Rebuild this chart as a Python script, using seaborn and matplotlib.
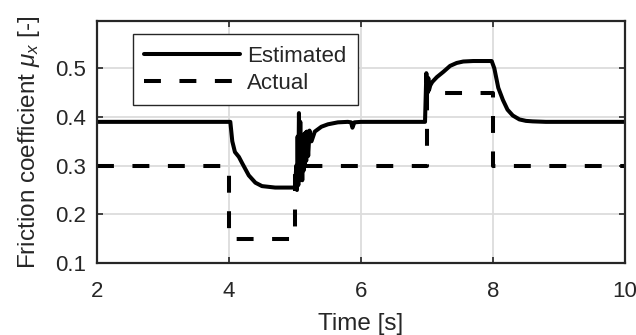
import matplotlib
matplotlib.use("Agg")
import matplotlib.pyplot as plt
import seaborn as sns
import pandas as pd

# ---- data ----
est_t = [2.0, 4.02, 4.05, 4.09, 4.15, 4.2, 4.3, 4.4, 4.5, 4.7, 5.0, 5.02, 5.03, 5.04, 5.05,
         5.06, 5.07, 5.08, 5.09, 5.1, 5.11, 5.12, 5.13, 5.14, 5.15, 5.16, 5.17, 5.18, 5.2,
         5.22, 5.25, 5.3, 5.4, 5.5, 5.65, 5.8, 5.85, 5.87,
         5.9, 6.0, 6.97, 6.99, 7.01, 7.02, 7.03, 7.05, 7.08, 7.15, 7.25, 7.35, 7.45, 7.55, 7.7,
         7.98, 8.02, 8.08, 8.15, 8.22, 8.3, 8.4, 8.5, 8.6, 8.8, 10.0]
est_v = [0.39, 0.39, 0.35, 0.328, 0.318, 0.305, 0.28, 0.265, 0.258, 0.255, 0.255, 0.30, 0.25,
         0.36, 0.26, 0.408, 0.27, 0.39, 0.28, 0.35, 0.27, 0.36, 0.29, 0.365, 0.30, 0.368, 0.31,
         0.37, 0.32, 0.372, 0.35, 0.37, 0.38, 0.385, 0.389,
         0.39, 0.389, 0.378, 0.389, 0.39, 0.39, 0.49, 0.45, 0.48, 0.455, 0.465, 0.472, 0.482,
         0.493, 0.505, 0.511, 0.514, 0.515, 0.515, 0.50, 0.46, 0.435, 0.415, 0.403, 0.395, 0.392,
         0.391, 0.39, 0.39]

act_t = [2, 4, 4, 5, 5, 7, 7, 8, 8, 10]
act_v = [0.30, 0.30, 0.15, 0.15, 0.30, 0.30, 0.45, 0.45, 0.30, 0.30]

x_ticks = [2, 4, 6, 8, 10]
y_ticks = [0.1, 0.2, 0.3, 0.4, 0.5]
labels = ["Estimated", "Actual"]

sns.set_theme(style="white")
plt.rcParams["font.family"] = ["Liberation Sans", "DejaVu Sans"]
plt.rcParams["mathtext.fontset"] = "custom"
plt.rcParams["mathtext.it"] = "Liberation Sans:italic"
plt.rcParams["mathtext.rm"] = "Liberation Sans"

fig = plt.figure(figsize=(6.36, 3.35), dpi=100)
ax = fig.add_axes([0.1525, 0.2149, 0.8302, 0.7221])

df_est = pd.DataFrame({"t": est_t, "v": est_v})
df_act = pd.DataFrame({"t": act_t, "v": act_v})

sns.lineplot(data=df_est, x="t", y="v", ax=ax, sort=False, estimator=None,
             color="black", lw=2.9, label=labels[0])
sns.lineplot(data=df_act, x="t", y="v", ax=ax, sort=False, estimator=None,
             color="black", lw=2.9, linestyle=(0, (4.2, 4.6)), label=labels[1])

ax.set_xlim(2, 10)
ax.set_ylim(0.1, 0.597)
ax.set_xticks(x_ticks)
ax.set_xticklabels([str(v) for v in x_ticks])
ax.set_yticks(y_ticks)
ax.set_yticklabels([f"{v:.1f}" for v in y_ticks])
ax.grid(True, color="#dcdcdc", lw=1.3)
ax.set_axisbelow(True)

dark = "#262626"
for s in ax.spines.values():
    s.set_color(dark)
    s.set_linewidth(1.6)
ax.tick_params(direction="in", length=4, width=1.2, colors=dark, labelsize=16,
               top=True, right=True, bottom=True, left=True)
ax.tick_params(axis="x", pad=13)
ax.tick_params(axis="y", pad=8)
ax.set_xlabel("Time [s]", fontsize=17.5, color=dark, labelpad=8)
ax.set_ylabel(r"Friction coefficient $\mu_x$ [-]", fontsize=17.5, color=dark, labelpad=9)

leg = ax.legend(loc="upper left", bbox_to_anchor=(0.068, 0.945), fontsize=16,
                frameon=True, fancybox=False, handlelength=4.3, handletextpad=0.35,
                borderpad=0.5, labelspacing=0.3, borderaxespad=0)
leg.get_frame().set_edgecolor(dark)
leg.get_frame().set_linewidth(1.0)
leg.get_frame().set_alpha(1)

fig.savefig("out.png", dpi=100)
